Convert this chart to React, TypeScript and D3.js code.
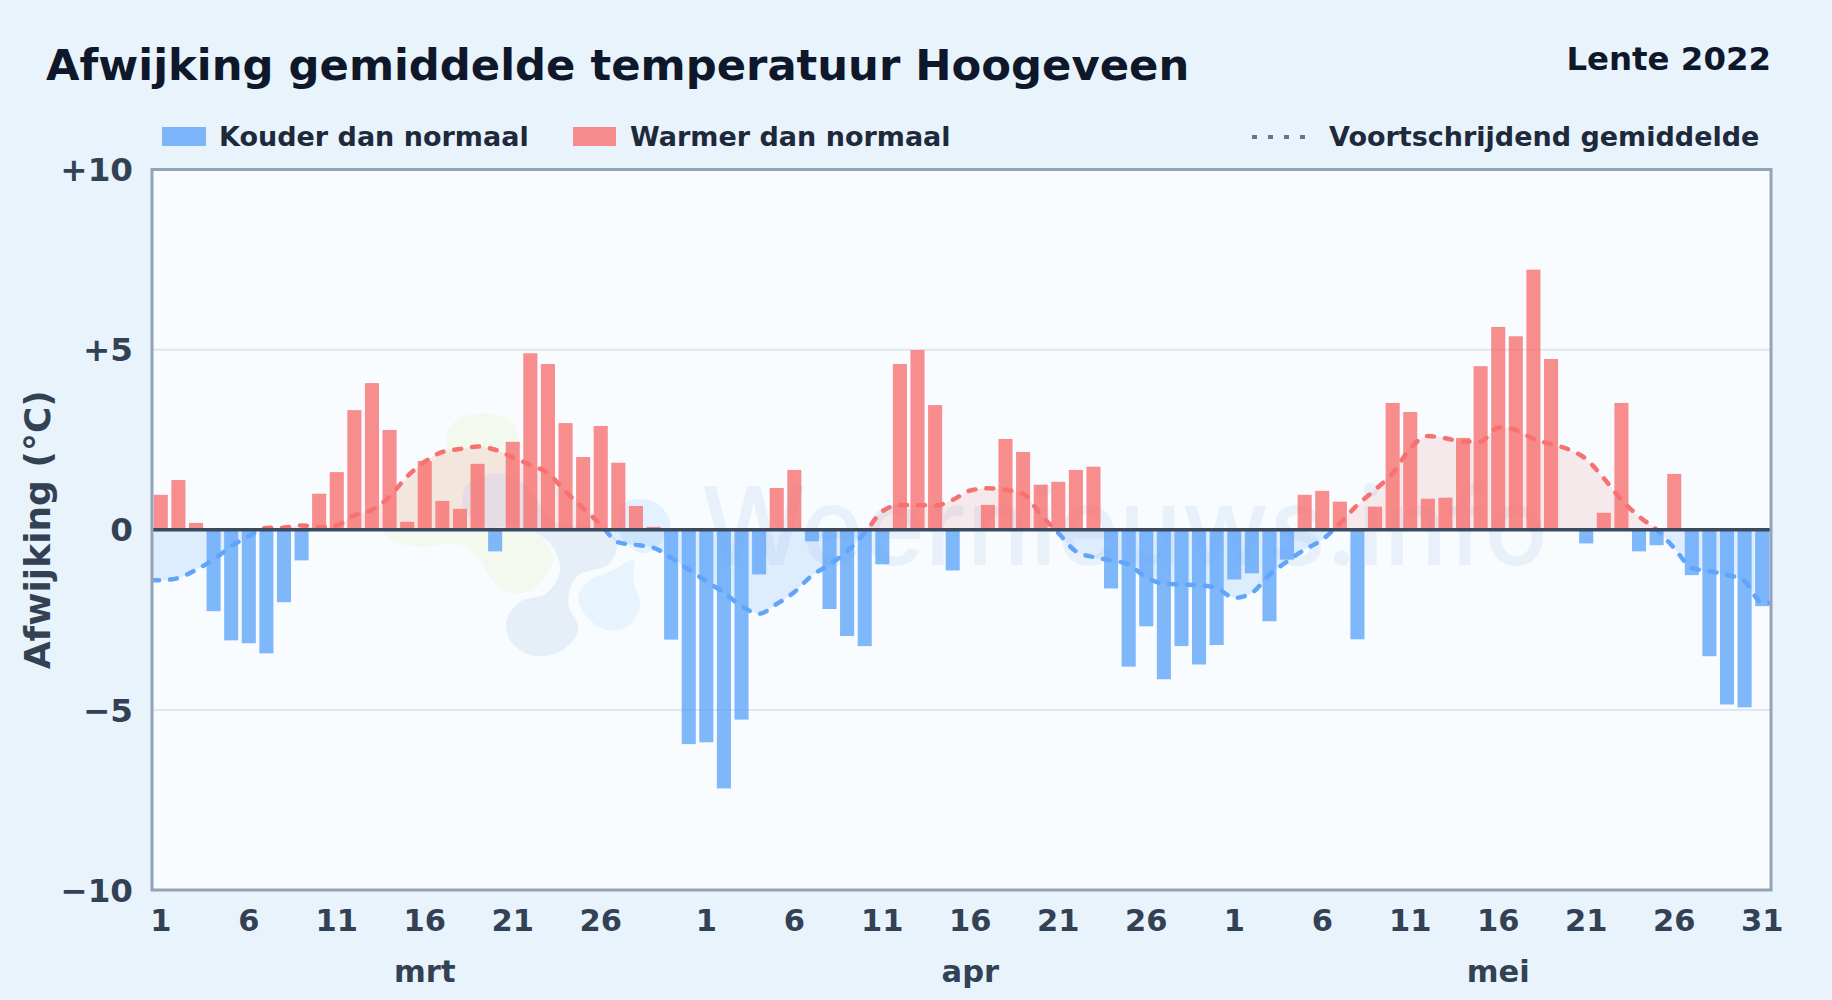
import * as d3 from "d3";

const marchDays = [0.97, 1.38, 0.19, -2.26, -3.07, -3.15, -3.43, -2.01, -0.85, 1.0, 1.6, 3.32, 4.07, 2.77, 0.22, 1.91, 0.8, 0.58, 1.83, -0.6, 2.44, 4.9, 4.6, 2.96, 2.02, 2.88, 1.86, 0.66, 0.08, -3.05, -5.95];
const aprilDays = [-5.9, -7.18, -5.27, -1.24, 1.16, 1.66, -0.32, -2.2, -2.95, -3.23, -0.96, 4.6, 4.99, 3.46, -1.13, 0, 0.69, 2.52, 2.16, 1.25, 1.33, 1.66, 1.75, -1.63, -3.8, -2.68, -4.15, -3.23, -3.74, -3.2];
const mayDays = [-1.38, -1.21, -2.54, -0.83, 0.97, 1.08, 0.78, -3.04, 0.64, 3.52, 3.27, 0.86, 0.89, 2.55, 4.54, 5.63, 5.37, 7.22, 4.74, 0, -0.38, 0.47, 3.52, -0.6, -0.43, 1.55, -1.26, -3.51, -4.85, -4.93, -2.12];

const marchAvg = [-1.4, -1.34, -1.11, -0.83, -0.46, -0.18, 0.05, 0.06, 0.12, 0.07, 0.12, 0.4, 0.55, 0.92, 1.48, 1.89, 2.16, 2.24, 2.31, 2.22, 2.01, 1.8, 1.57, 1.06, 0.6, 0.14, -0.35, -0.42, -0.5, -0.78, -1.11];
const aprilAvg = [-1.43, -1.75, -2.12, -2.33, -2.06, -1.73, -1.27, -0.97, -0.6, -0.09, 0.51, 0.69, 0.69, 0.67, 0.83, 1.09, 1.15, 1.11, 1.0, 0.42, -0.09, -0.6, -0.76, -0.85, -0.97, -1.32, -1.5, -1.52, -1.54, -1.62];
const mayAvg = [-1.89, -1.75, -1.25, -0.88, -0.55, -0.28, 0.18, 0.69, 1.11, 1.57, 2.26, 2.6, 2.54, 2.45, 2.45, 2.84, 2.77, 2.52, 2.38, 2.23, 1.96, 1.43, 0.83, 0.37, 0, -0.51, -1.06, -1.15, -1.25, -1.43, -2.03];

const months = ["mrt", "apr", "mei"];
const monthCenters = [15, 46, 76]; // day index under each month label
const dayTicks = [1, 6, 11, 16, 21, 26, 31];
const yTicks = [-10, -5, 0, 5, 10];

// watermark logo outlines, in crop pixels
const logoGreen: [number, number][] = [[340, 70], [420, 90], [445, 150], [440, 230], [480, 330], [520, 440], [550, 510], [500, 590], [430, 610], [365, 570], [330, 510], [270, 465], [150, 470], [60, 450], [40, 410], [80, 310], [150, 240], [220, 190], [235, 120], [270, 85]];
const logoSlate: [number, number][] = [[380, 250], [440, 265], [500, 330], [560, 400], [660, 410], [740, 450], [720, 520], [620, 560], [595, 640], [625, 720], [570, 785], [480, 795], [420, 750], [410, 690], [450, 635], [530, 610], [570, 540], [540, 460], [450, 410], [340, 410], [280, 350], [290, 285]];
const logoSkyLow: [number, number][] = [[625, 620], [660, 570], [720, 545], [790, 510], [790, 570], [810, 650], [770, 710], [710, 720], [650, 680]];
const logoSkyHigh: [number, number][] = [[770, 335], [850, 335], [900, 390], [880, 450], [820, 490], [760, 450], [745, 390]];

const WIDTH = 1832;
const HEIGHT = 1000;
const MARGIN = { top: 169.5, right: 61, bottom: 110, left: 152 };
const FONT = "'DejaVu Sans', sans-serif";
const RED = "#f87171";
const BLUE = "#60a5fa";

const values = [...marchDays, ...aprilDays, ...mayDays];
const averages = [...marchAvg, ...aprilAvg, ...mayAvg];
const monthLengths = [marchDays.length, aprilDays.length, mayDays.length];

// day labels per month; march stops at 26, its 31 would run into april's 1
const tickEntries: { index: number; label: number }[] = [];
let offset = 0;
monthLengths.forEach((len, m) => {
  dayTicks.forEach((d) => {
    if (d > len) return;
    if (d === 31 && m === 0) return;
    tickEntries.push({ index: offset + d - 1, label: d });
  });
  offset += len;
});

const x = d3
  .scaleBand<number>()
  .domain(d3.range(values.length))
  .range([MARGIN.left, WIDTH - MARGIN.right])
  .paddingInner(0.2)
  .paddingOuter(0.1);
const xMid = (i: number) => x(i)! + x.bandwidth() / 2;
const y = d3
  .scaleLinear()
  .domain([-10, 10])
  .range([HEIGHT - MARGIN.bottom, MARGIN.top]);

// the average runs on flat to both frame edges
const avgPoints: [number, number][] = [
  [MARGIN.left, averages[0]],
  ...averages.map((v, i): [number, number] => [xMid(i), v]),
  [WIDTH - MARGIN.right, averages[averages.length - 1]],
];
const avgLine = d3
  .line<[number, number]>()
  .x((d) => d[0])
  .y((d) => y(d[1]))
  .curve(d3.curveMonotoneX);
const avgArea = d3
  .area<[number, number]>()
  .x((d) => d[0])
  .y0(y(0))
  .y1((d) => y(d[1]))
  .curve(d3.curveMonotoneX);
const blob = d3.line().curve(d3.curveCatmullRomClosed.alpha(0.5));

const yLabel = (t: number) => (t > 0 ? `+${t}` : t < 0 ? `\u2212${-t}` : "0");

export default function App() {
  const plotW = WIDTH - MARGIN.left - MARGIN.right;
  const aboveH = y(0) - MARGIN.top;
  const belowH = HEIGHT - MARGIN.bottom - y(0);

  return (
    <svg
      width={WIDTH}
      height={HEIGHT}
      viewBox={`0 0 ${WIDTH} ${HEIGHT}`}
      style={{ position: "absolute", left: 0, top: 0, display: "block" }}
      fontFamily={FONT}
      fontWeight={700}
    >
      <defs>
        <clipPath id="above">
          <rect x={MARGIN.left} y={MARGIN.top} width={plotW} height={aboveH} />
        </clipPath>
        <clipPath id="below">
          <rect x={MARGIN.left} y={y(0)} width={plotW} height={belowH} />
        </clipPath>
      </defs>

      <rect width={WIDTH} height={HEIGHT} fill="#e9f3fc" />
      <rect x={MARGIN.left} y={MARGIN.top} width={plotW} height={aboveH + belowH} fill="#f8fcff" />

      {/* gridlines */}
      {yTicks
        .filter((t) => Math.abs(t) === 5)
        .map((t) => (
          <line key={t} x1={MARGIN.left} x2={WIDTH - MARGIN.right} y1={y(t)} y2={y(t)} stroke="#e0e7ee" strokeWidth={2} />
        ))}

      {/* watermark */}
      <g transform="translate(370 390) scale(0.3333)">
        <path d={blob(logoGreen)!} fill="#f3f9ef" />
        <path d={blob(logoSlate)!} fill="#e6eff7" />
        <path d={blob(logoSkyLow)!} fill="#e7f3fd" />
        <path d={blob(logoSkyHigh)!} fill="#e4f1fe" />
      </g>
      <text
        x={701}
        y={565}
        fontSize={108}
        fontFamily="Inter, sans-serif"
        fontWeight={500}
        fill="#e8f1f9"
        textLength={847}
        lengthAdjust="spacingAndGlyphs"
      >
        Weernieuws.info
      </text>

      {/* moving average fill */}
      <path d={avgArea(avgPoints)!} fill="#ef4444" fillOpacity={0.1} clipPath="url(#above)" />
      <path d={avgArea(avgPoints)!} fill={BLUE} fillOpacity={0.17} clipPath="url(#below)" />

      {/* bars */}
      {values.map((v, i) =>
        v === 0 ? null : (
          <rect
            key={i}
            x={x(i)}
            y={v > 0 ? y(v) : y(0)}
            width={x.bandwidth()}
            height={Math.abs(y(v) - y(0))}
            fill={v > 0 ? RED : BLUE}
            fillOpacity={0.8}
          />
        )
      )}

      {/* moving average line */}
      <path d={avgLine(avgPoints)!} fill="none" stroke={RED} strokeWidth={4.5} strokeDasharray="7 11" strokeLinecap="round" clipPath="url(#above)" />
      <path d={avgLine(avgPoints)!} fill="none" stroke={BLUE} strokeWidth={4.5} strokeDasharray="7 11" strokeLinecap="round" clipPath="url(#below)" />

      {/* zero line and frame */}
      <line x1={MARGIN.left} x2={WIDTH - MARGIN.right} y1={y(0)} y2={y(0)} stroke="#3b4a5f" strokeWidth={3.6} />
      <rect x={MARGIN.left} y={MARGIN.top} width={plotW} height={aboveH + belowH} fill="none" stroke="#94a3b8" strokeWidth={3} />

      {/* title */}
      <text x={46} y={80} fontSize={43.3} fill="#0f172a">
        Afwijking gemiddelde temperatuur Hoogeveen
      </text>
      <text x={1771} y={70} fontSize={32.4} fill="#0f172a" textAnchor="end">
        Lente 2022
      </text>

      {/* legend */}
      <rect x={162} y={127} width={44} height={19} fill={BLUE} fillOpacity={0.8} />
      <text x={219} y={146} fontSize={27} fill="#1e293b">Kouder dan normaal</text>
      <rect x={573} y={127} width={43} height={19} fill={RED} fillOpacity={0.8} />
      <text x={630} y={146} fontSize={27} fill="#1e293b">Warmer dan normaal</text>
      <line x1={1252} x2={1310} y1={137} y2={137} stroke="#64748b" strokeWidth={4} strokeDasharray="5 11" />
      <text x={1329} y={146} fontSize={27} fill="#1e293b">Voortschrijdend gemiddelde</text>

      {/* y axis */}
      {yTicks.map((t) => (
        <text key={t} x={133} y={y(t)} dy="0.36em" textAnchor="end" fontSize={32.6} fill="#334155">
          {yLabel(t)}
        </text>
      ))}
      <text transform={`translate(50 ${y(0)}) rotate(-90)`} textAnchor="middle" fontSize={36} fill="#334155">
        Afwijking (°C)
      </text>

      {/* x axis */}
      {tickEntries.map((t) => (
        <text key={t.index} x={xMid(t.index)} y={931} textAnchor="middle" fontSize={30.5} fill="#334155">
          {t.label}
        </text>
      ))}
      {months.map((m, i) => (
        <text key={m} x={xMid(monthCenters[i])} y={982} textAnchor="middle" fontSize={30.5} fill="#334155">
          {m}
        </text>
      ))}
    </svg>
  );
}
